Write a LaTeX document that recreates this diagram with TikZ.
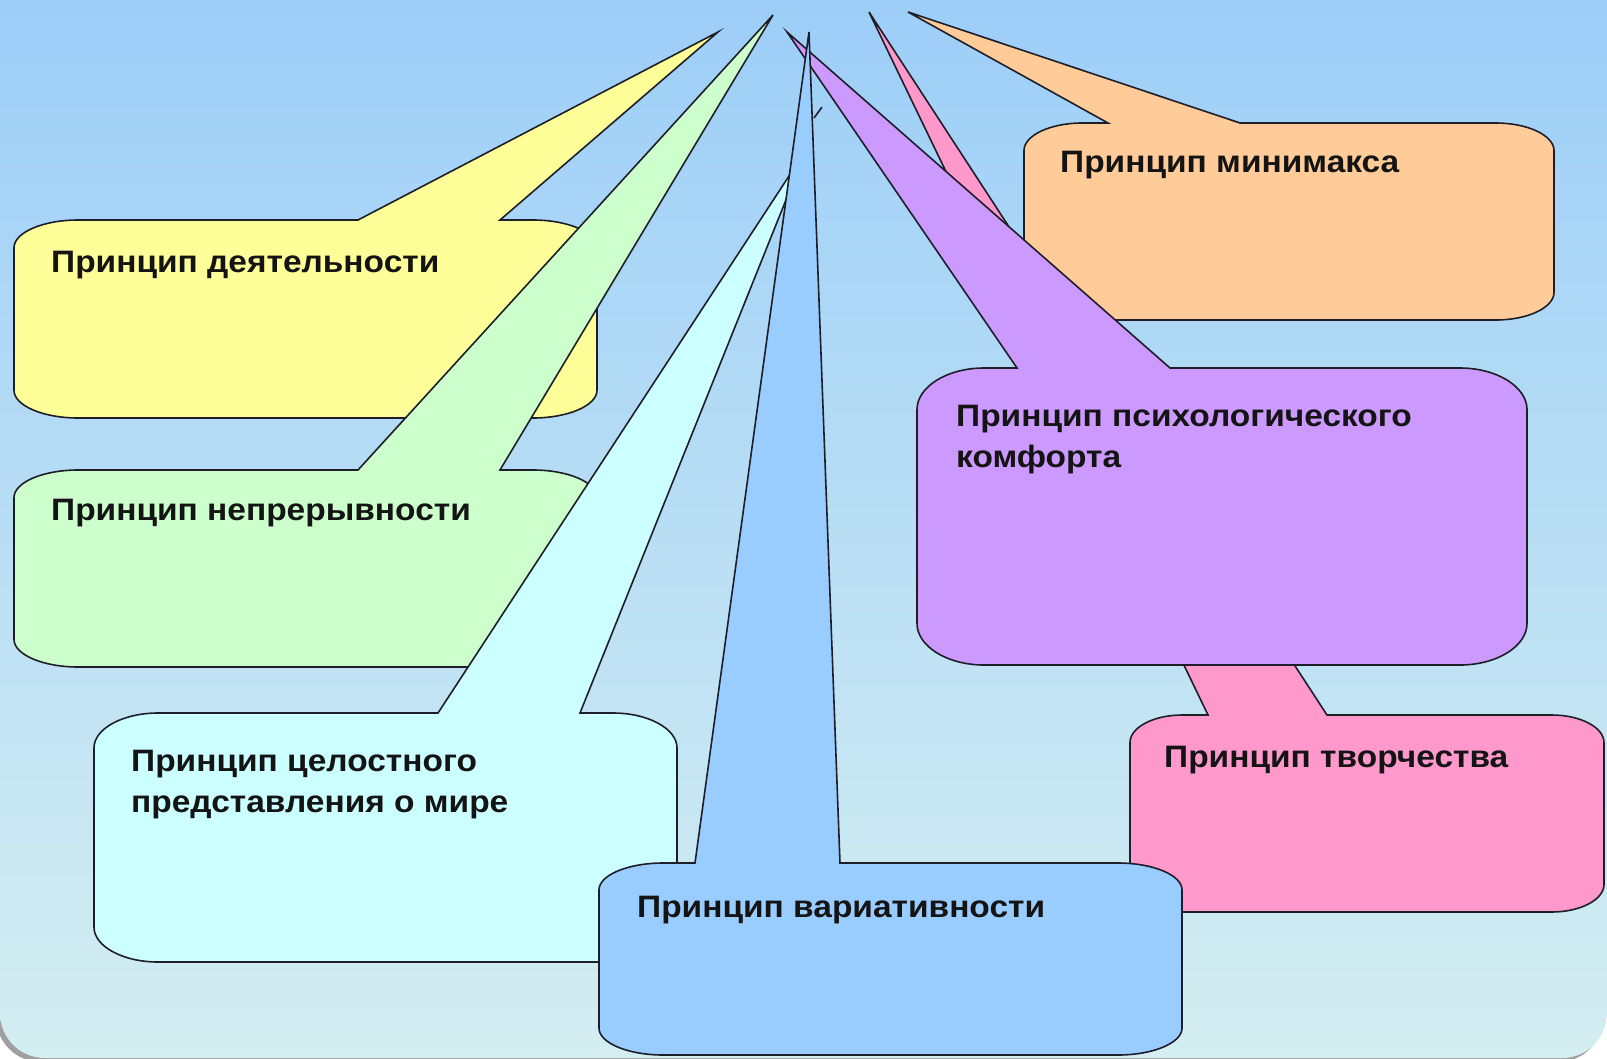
\documentclass[tikz,border=0pt]{standalone}
\usepackage{fontspec}
\setmainfont{Liberation Sans}
\newfontfamily\labfont{Liberation Sans}[FakeStretch=1.08]
\definecolor{bgtop}{RGB}{157,206,248}
\definecolor{bgbot}{RGB}{212,238,241}
\definecolor{cyel}{RGB}{255,255,153}
\definecolor{cgrn}{RGB}{204,255,204}
\definecolor{ccyn}{RGB}{204,255,255}
\definecolor{cblu}{RGB}{153,204,255}
\definecolor{cpur}{RGB}{204,153,255}
\definecolor{cpnk}{RGB}{255,153,204}
\definecolor{corg}{RGB}{255,204,153}
\definecolor{cline}{RGB}{30,30,40}
\newcommand{\bubble}[9]{%
  \pgfmathsetmacro\rx{0.11*(#4-#2)}%
  \pgfmathsetmacro\ry{0.14*(#5-#3)}%
  \filldraw[bubblestyle, fill=#1] ({#2+\rx},#3) -- (#6,#3) -- (#8,#9) -- (#7,#3) -- ({#4-\rx},#3)
    .. controls ({#4-0.45*\rx},#3) and (#4,{#3+0.45*\ry}) .. (#4,{#3+\ry})
    -- (#4,{#5-\ry})
    .. controls (#4,{#5-0.45*\ry}) and ({#4-0.45*\rx},#5) .. ({#4-\rx},#5)
    -- ({#2+\rx},#5)
    .. controls ({#2+0.45*\rx},#5) and (#2,{#5-0.45*\ry}) .. (#2,{#5-\ry})
    -- (#2,{#3+\ry})
    .. controls (#2,{#3+0.45*\ry}) and ({#2+0.45*\rx},#3) .. ({#2+\rx},#3) -- cycle;%
}
\begin{document}
\begin{tikzpicture}[x=1pt,y=-1pt,
  bubblestyle/.style={draw=cline, line width=1.6pt, line join=miter},
  lab/.style={anchor=north west, inner sep=0pt, align=left, text=black!92,
    font=\labfont\bfseries\fontsize{31}{41}\selectfont}]
\useasboundingbox (0,0) rectangle (1607,1058);
\fill[white] (0,0) rectangle (1607,1058);
% slide shadow
\fill[gray!75, xshift=-4pt, yshift=-4pt] (0,0) -- (1607,0) -- (1607,1013)
  .. controls (1607,1038) and (1587,1058) .. (1562,1058) -- (45,1058)
  .. controls (20,1058) and (0,1038) .. (0,1013) -- cycle;
% slide
\shade[top color=bgtop, bottom color=bgbot] (0,0) -- (1607,0) -- (1607,1013)
  .. controls (1607,1038) and (1587,1058) .. (1562,1058) -- (45,1058)
  .. controls (20,1058) and (0,1038) .. (0,1013) -- cycle;
% callouts (back to front)
\bubble{cpnk}{1130}{715}{1604}{912}{1208}{1327}{869}{12}
\bubble{corg}{1024}{123}{1554}{320}{1108}{1240}{908}{12}
\bubble{cpur}{917}{368}{1527}{665}{1017}{1170}{787}{32}
\bubble{cyel}{14}{220}{597}{418}{358}{500}{718}{32}
\bubble{cgrn}{14}{470}{597}{667}{358}{500}{773}{15}
\bubble{ccyn}{94}{713}{677}{962}{438}{580}{806}{150}
\bubble{cblu}{599}{863}{1182}{1055}{695}{840}{809}{32}
\draw[bubblestyle] (814,118) -- (822,107);
% labels
\node[lab] (t1) at (51,251) {Принцип деятельности};
\node[lab] (t2) at (51,499) {Принцип непрерывности};
\node[lab] (t3) at (131,750) {Принцип целостного\\представления о мире};
\node[lab] (t4) at (637,896) {Принцип вариативности};
\node[lab] (t5) at (956,405) {Принцип психологического\\комфорта};
\node[lab] (t6) at (1164,746) {Принцип творчества};
\node[lab] (t7) at (1060,151) {Принцип минимакса};
\end{tikzpicture}
\end{document}
